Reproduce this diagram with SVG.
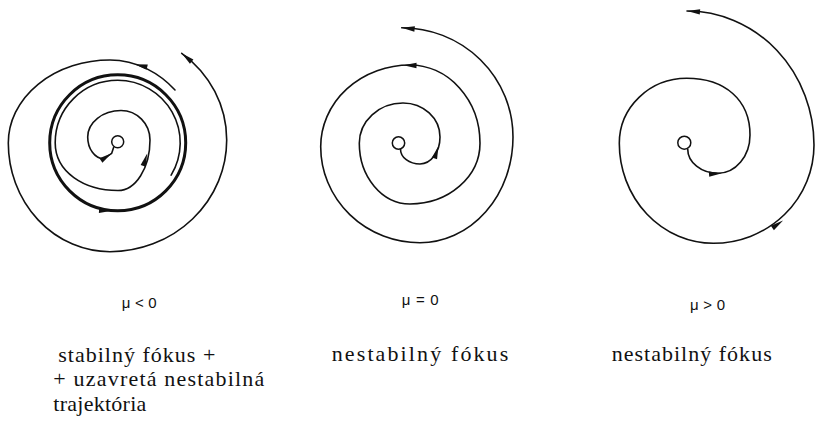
<svg xmlns="http://www.w3.org/2000/svg" xmlns:xlink="http://www.w3.org/1999/xlink" width="816" height="423" viewBox="0 0 816 423">
<style>
.tr{fill:none;stroke:#111;stroke-width:1.6;stroke-linecap:round;stroke-linejoin:round}
.lc{fill:none;stroke:#111;stroke-width:3}
.fc{fill:#fff;stroke:#111;stroke-width:1.5}
.ah{fill:#111}
.mu{font-family:"Liberation Sans",Arial,sans-serif;font-size:15px;fill:#111}
.cap{font-family:"Liberation Serif","Times New Roman",serif;font-size:22px;fill:#111}
</style>
<defs>
<path id="ah" d="M0,0 L-13,-2.7 L-13,2.7 Z"/>
</defs>
<rect width="816" height="423" fill="#fff"/>

<g id="left-portrait">
<circle class="lc" cx="117.7" cy="142.8" r="68"/>
<path class="tr" d="M171.15,175.2 A62.5 62.5 0 0 0 117.7,80.3 A62.5 62.5 0 0 0 55.2,142.8 C55.2,172 84,190.5 118,190.5 A32 50.5 0 0 0 150,140 A29 29.5 0 0 0 121,110.5 A33.3 26.5 0 0 0 87.7,137 C87.7,149 95,158.5 103.5,158.8 L111.7,153.3 L113.6,147.6"/>
<path class="tr" d="M175,90 C160,73.7 137,60 110,60 A101.7 83 0 0 0 8.3,143 A101.7 108.7 0 0 0 110,251.7 A116.7 111.7 0 0 0 226.7,140 A111.7 108.1 0 0 0 181.7,53.3"/>
<circle class="fc" cx="117.7" cy="141.8" r="6"/>
<use xlink:href="#ah" class="ah" transform="translate(134.5,64.2) rotate(-167)"/>
<use xlink:href="#ah" class="ah" transform="translate(181.7,53.3) rotate(-140)"/>
<use xlink:href="#ah" class="ah" transform="translate(147.2,153.5) rotate(-72)"/>
<use xlink:href="#ah" class="ah" transform="translate(111.7,153.3) rotate(-34)"/>
<use xlink:href="#ah" class="ah" transform="translate(112,210.7) rotate(2)"/>
</g>

<g id="middle-portrait">
<path class="tr" d="M400.5,149.2 A19.5 14.8 0 0 0 420,164 A20 27 0 0 0 440,137 A37 34 0 0 0 403,103 A43.7 40.3 0 0 0 359.3,143.3 A50.7 60.7 0 0 0 410,204 A70 60.7 0 0 0 480,143.3 A70 78.3 0 0 0 410,65 A89.3 81.7 0 0 0 320.7,146.7 A99.3 96 0 0 0 420,242.7 A93 105.7 0 0 0 513,137 A111.3 109.3 0 0 0 401.7,27.7"/>
<circle class="fc" cx="398.5" cy="143" r="6.2"/>
<use xlink:href="#ah" class="ah" transform="translate(438.5,146) rotate(-72)"/>
<use xlink:href="#ah" class="ah" transform="translate(403.5,65.2) rotate(181)"/>
<use xlink:href="#ah" class="ah" transform="translate(401.7,27.7) rotate(186)"/>
</g>

<g id="right-portrait">
<path class="tr" d="M687.7,149 A30.3 24.3 0 0 0 718,173.3 A32 38.3 0 0 0 750,135 C750,100 725,78.3 686.7,78.3 A67.4 65 0 0 0 619.3,143.3 A94 100 0 0 0 713.3,243.3 A100.7 98.3 0 0 0 814,145 A127 134 0 0 0 687,11"/>
<circle class="fc" cx="684.3" cy="142.7" r="6.5"/>
<use xlink:href="#ah" class="ah" transform="translate(722,173.2) rotate(-4)"/>
<use xlink:href="#ah" class="ah" transform="translate(783,220.5) rotate(-35)"/>
<use xlink:href="#ah" class="ah" transform="translate(687,11) rotate(184)"/>
</g>

<g id="labels">
<text class="mu" x="121.7" y="307.5" textLength="35" lengthAdjust="spacing">μ &lt; 0</text>
<text class="mu" x="401.7" y="304.5" textLength="37" lengthAdjust="spacing">μ = 0</text>
<text class="mu" x="690" y="309.5" textLength="35" lengthAdjust="spacing">μ &gt; 0</text>
<text class="cap" x="58.3" y="361.5" textLength="157" lengthAdjust="spacing">stabilný fókus +</text>
<text class="cap" x="53.3" y="386" textLength="211" lengthAdjust="spacing">+ uzavretá nestabilná</text>
<text class="cap" x="53.3" y="410.5" textLength="93" lengthAdjust="spacing">trajektória</text>
<text class="cap" x="331.7" y="361" textLength="176.6" lengthAdjust="spacing">nestabilný fókus</text>
<text class="cap" x="611.7" y="361" textLength="160" lengthAdjust="spacing">nestabilný fókus</text>
</g>
</svg>
